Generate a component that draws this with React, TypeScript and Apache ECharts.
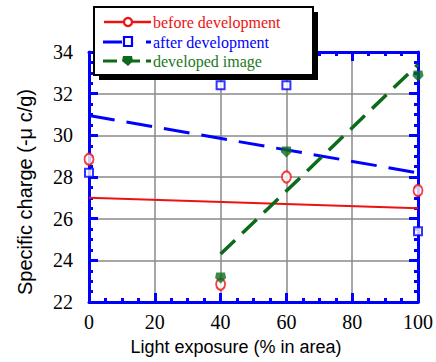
import React, { useEffect, useRef } from "react";
import * as echarts from "echarts";

// Light exposure (% in area) -> specific charge (-μC/g)
const beforePoints: [number, number][] = [
  [0, 28.85],
  [40, 22.85],
  [60, 28.0],
  [100, 27.35],
];
const afterPoints: [number, number][] = [
  [0, 28.2],
  [40, 32.4],
  [60, 32.4],
  [100, 25.4],
];
const imagePoints: [number, number][] = [
  [40, 23.15],
  [60, 29.2],
  [100, 32.85],
];
// fitted trend lines (end points)
const beforeFit: [number, number][] = [
  [0, 27.0],
  [100, 26.5],
];
const afterFit: [number, number][] = [
  [0, 30.95],
  [100, 28.2],
];
const imageFit: [number, number][] = [
  [40, 24.3],
  [100, 33.4],
];

const legendLabels = ["before development", "after development", "developed image"];
const xTitle = "Light exposure (% in area)";
const yTitle = "Specific charge (-μ c/g)";

const RED = "#ee1111";
const BLUE = "#0000ff";
const GREEN = "#0b6b1b";
const GRID = "#8a8a8a";
const dropPath = "path://M1,0 L9,0 L10,5 L5,10 L0,5 Z";

const axisBase = (min: number, max: number, interval: number, minorSplit: number) => ({
  type: "value" as const,
  min,
  max,
  interval,
  axisLine: { show: true, onZero: false, lineStyle: { color: BLUE, width: 3 } },
  axisTick: { show: true, inside: true, length: 9, lineStyle: { color: BLUE, width: 3 } },
  minorTick: { show: true, splitNumber: minorSplit, length: 4, lineStyle: { color: BLUE, width: 3 } },
});

export default function App() {
  const ref = useRef<HTMLDivElement>(null);
  useEffect(() => {
    if (!ref.current) return;
    const chart = echarts.init(ref.current, null, { renderer: "svg" });
    const labelStyle = {
      color: "#000",
      fontFamily: "Liberation Serif",
      fontSize: 20,
    };
    chart.setOption({
      animation: false,
      backgroundColor: "#fff",
      grid: { left: 89, right: 11, top: 52, bottom: 60 },
      xAxis: [
        {
          ...axisBase(0, 100, 20, 4),
          position: "bottom",
          axisLabel: { ...labelStyle, margin: 10 },
          splitLine: { show: true, lineStyle: { color: GRID, width: 1.5 } },
        },
        {
          ...axisBase(0, 100, 20, 4),
          position: "top",
          axisLabel: { show: false },
          splitLine: { show: false },
        },
      ],
      yAxis: [
        {
          ...axisBase(22, 34, 2, 4),
          position: "left",
          axisLabel: { ...labelStyle, margin: 16 },
          splitLine: { show: true, lineStyle: { color: GRID, width: 1.5 } },
        },
        {
          ...axisBase(22, 34, 2, 4),
          position: "right",
          axisLabel: { show: false },
          splitLine: { show: false },
        },
      ],
      series: [
        {
          type: "line",
          data: beforeFit,
          symbol: "none",
          lineStyle: { color: RED, width: 2 },
          z: 3,
        },
        {
          type: "line",
          data: afterFit,
          symbol: "none",
          lineStyle: { color: BLUE, width: 3, type: [26, 12] },
          z: 3,
        },
        {
          type: "line",
          data: imageFit,
          symbol: "none",
          lineStyle: { color: GREEN, width: 3.5, type: [20, 10] },
          z: 3,
        },
        {
          type: "scatter",
          data: beforePoints,
          symbol: "emptyCircle",
          symbolSize: [9, 11],
          itemStyle: { color: RED, borderColor: RED, borderWidth: 2.2 },
          z: 5,
        },
        {
          type: "scatter",
          data: afterPoints,
          symbol: "emptyRect",
          symbolSize: 8,
          itemStyle: { color: BLUE, borderColor: BLUE, borderWidth: 2.2 },
          z: 5,
        },
        {
          type: "scatter",
          data: imagePoints,
          symbol: dropPath,
          symbolSize: 11,
          itemStyle: { color: GREEN },
          z: 6,
        },
      ],
      graphic: [
        {
          type: "text",
          x: 236,
          y: 347,
          style: {
            text: xTitle,
            fill: "#000",
            font: "18px 'Liberation Sans'",
            align: "center",
            verticalAlign: "middle",
          },
        },
        {
          type: "text",
          x: 25,
          y: 192,
          rotation: Math.PI / 2,
          style: {
            text: yTitle,
            fill: "#000",
            font: "20px 'Liberation Sans'",
            align: "center",
            verticalAlign: "middle",
          },
        },
        // legend box
        {
          type: "group",
          z: 100,
          children: [
            { type: "rect", shape: { x: 99, y: 12, width: 219, height: 68 }, style: { fill: "#000" }, z: 100 },
            {
              type: "rect",
              shape: { x: 94, y: 7, width: 219, height: 68 },
              style: { fill: "#fff", stroke: "#000", lineWidth: 2 },
              z: 101,
            },
            // row 1
            { type: "line", shape: { x1: 104, y1: 22, x2: 151, y2: 22 }, style: { stroke: RED, lineWidth: 2.5 }, z: 102 },
            { type: "circle", shape: { cx: 128, cy: 22, r: 4 }, style: { fill: "#fff", stroke: RED, lineWidth: 2.2 }, z: 103 },
            {
              type: "text",
              x: 153,
              y: 22,
              z: 102,
              style: { text: legendLabels[0], fill: RED, font: "16px 'Liberation Serif'", verticalAlign: "middle" },
            },
            // row 2
            { type: "line", shape: { x1: 103, y1: 42, x2: 122, y2: 42 }, style: { stroke: BLUE, lineWidth: 3 }, z: 102 },
            { type: "line", shape: { x1: 146, y1: 42, x2: 151, y2: 42 }, style: { stroke: BLUE, lineWidth: 3 }, z: 102 },
            { type: "rect", shape: { x: 124, y: 37, width: 8, height: 9 }, style: { fill: "#fff", stroke: BLUE, lineWidth: 2.2 }, z: 103 },
            {
              type: "text",
              x: 153,
              y: 42,
              z: 102,
              style: { text: legendLabels[1], fill: BLUE, font: "16px 'Liberation Serif'", verticalAlign: "middle" },
            },
            // row 3
            { type: "line", shape: { x1: 103, y1: 61, x2: 117, y2: 61 }, style: { stroke: GREEN, lineWidth: 3 }, z: 102 },
            { type: "line", shape: { x1: 128, y1: 61, x2: 140, y2: 61 }, style: { stroke: GREEN, lineWidth: 3 }, z: 102 },
            { type: "line", shape: { x1: 146, y1: 61, x2: 151, y2: 61 }, style: { stroke: GREEN, lineWidth: 3 }, z: 102 },
            {
              type: "polygon",
              shape: { points: [[123, 56], [132, 56], [133, 61], [128, 66], [122, 61]] },
              style: { fill: GREEN },
              z: 103,
            },
            {
              type: "text",
              x: 153,
              y: 61,
              z: 102,
              style: { text: legendLabels[2], fill: "#1a7a1a", font: "16px 'Liberation Serif'", verticalAlign: "middle" },
            },
          ],
        },
      ],
    });
    return () => chart.dispose();
  }, []);
  return (
    <div
      ref={ref}
      style={{ position: "absolute", left: 0, top: 0, width: 436, height: 362 }}
    />
  );
}
